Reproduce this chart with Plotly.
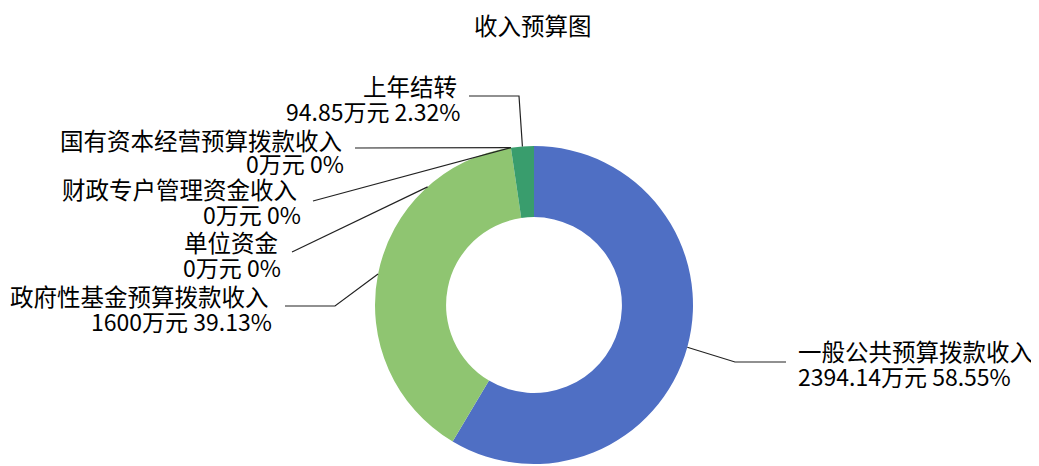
import math
import plotly.graph_objects as go

# ---- data ----
categories = ["一般公共预算拨款收入", "政府性基金预算拨款收入", "单位资金",
              "财政专户管理资金收入", "国有资本经营预算拨款收入", "上年结转"]
values = [2394.14, 1600, 0, 0, 0, 94.85]
unit = "万元"
title_text = "收入预算图"
colors = ["#4F6FC4", "#8FC571", "#A5A5A5", "#FFC000", "#5B9BD5", "#399D6D"]

# ---- layout constants (pixels in the screenshot) ----
W, H = 1039, 466
OFF = 8  # page body margin
CX, CY, R = 534, 305, 159
HOLE = 0.553
FONT = "Noto Sans CJK SC"
FS1, FS2 = 23.5, 23


def px(x, y):
    return (x - OFF) / W, 1 - (y - OFF) / H


total = sum(values)


def fmt_num(v):
    return f"{v:.2f}".rstrip("0").rstrip(".")


def pct(v):
    return fmt_num(round(v / total * 100, 2))


# mid angles (clockwise from 12 o'clock) for leader anchors
mids = []
acc = 0.0
for v in values:
    a0 = acc / total * 360
    acc += v
    a1 = acc / total * 360
    mids.append((a0 + a1) / 2)


def anchor(angle):
    t = math.radians(angle)
    return CX + R * math.sin(t), CY - R * math.cos(t)


label_layout = [
    dict(i=5, side="right", x1=458, x2=461, y1=86, y2=111, pre=[(469, 96), (519, 96)]),
    dict(i=4, side="right", x1=343, x2=345, y1=140, y2=163, pre=[(355, 148)]),
    dict(i=3, side="right", x1=298, x2=302, y1=189, y2=214, pre=[(313, 201)]),
    dict(i=2, side="right", x1=279, x2=282, y1=242, y2=267, pre=[(292, 252)], ang=318),
    dict(i=1, side="right", x1=270, x2=273, y1=296, y2=321, pre=[(285, 306), (335, 306)]),
    dict(i=0, side="left", x1=797, x2=797, y1=351, y2=376, pre=[(786, 362), (735, 362)]),
]

x0d, y1d = px(CX - R, CY - R)
x1d, y0d = px(CX + R, CY + R)

fig = go.Figure()
fig.add_trace(go.Pie(
    labels=categories, values=values, hole=HOLE, sort=False, direction="clockwise",
    rotation=0, marker=dict(colors=colors, line=dict(width=0)),
    textinfo="none", hoverinfo="label+value+percent", showlegend=False,
    domain=dict(x=[x0d, x1d], y=[max(0, y0d), y1d]),
))

annotations = []
shapes = []
for lab in label_layout:
    i = lab["i"]
    line1 = categories[i]
    line2 = f"{fmt_num(values[i])}{unit} {pct(values[i])}%"
    xanchor = "right" if lab["side"] == "right" else "left"
    for txt, xx, yy, fs in [(line1, lab["x1"], lab["y1"], FS1), (line2, lab["x2"], lab["y2"], FS2)]:
        ax, ay = px(xx, yy)
        annotations.append(dict(
            text=txt, x=ax, y=ay, xref="paper", yref="paper", showarrow=False,
            xanchor=xanchor, yanchor="middle", borderpad=0,
            font=dict(family=FONT, size=fs, color="#000000"),
        ))
    ang = lab.get("ang", mids[i])
    pts = list(lab["pre"]) + [anchor(ang)]
    path = ""
    for k, (x, y) in enumerate(pts):
        a, b = px(x, y)
        path += ("M" if k == 0 else " L") + f" {a:.5f} {b:.5f}"
    shapes.append(dict(type="path", path=path, xref="paper", yref="paper",
                       line=dict(color="#222222", width=1.2)))

tx, ty = px(533, 25)
annotations.append(dict(text=title_text, x=tx, y=ty, xref="paper", yref="paper", showarrow=False,
                        xanchor="center", yanchor="middle", borderpad=0,
                        font=dict(family=FONT, size=FS1, color="#000000")))

fig.update_layout(
    width=W, height=H, margin=dict(l=0, r=0, t=0, b=0),
    paper_bgcolor="white", plot_bgcolor="white",
    annotations=annotations, shapes=shapes,
)

fig.write_html("out.html")
